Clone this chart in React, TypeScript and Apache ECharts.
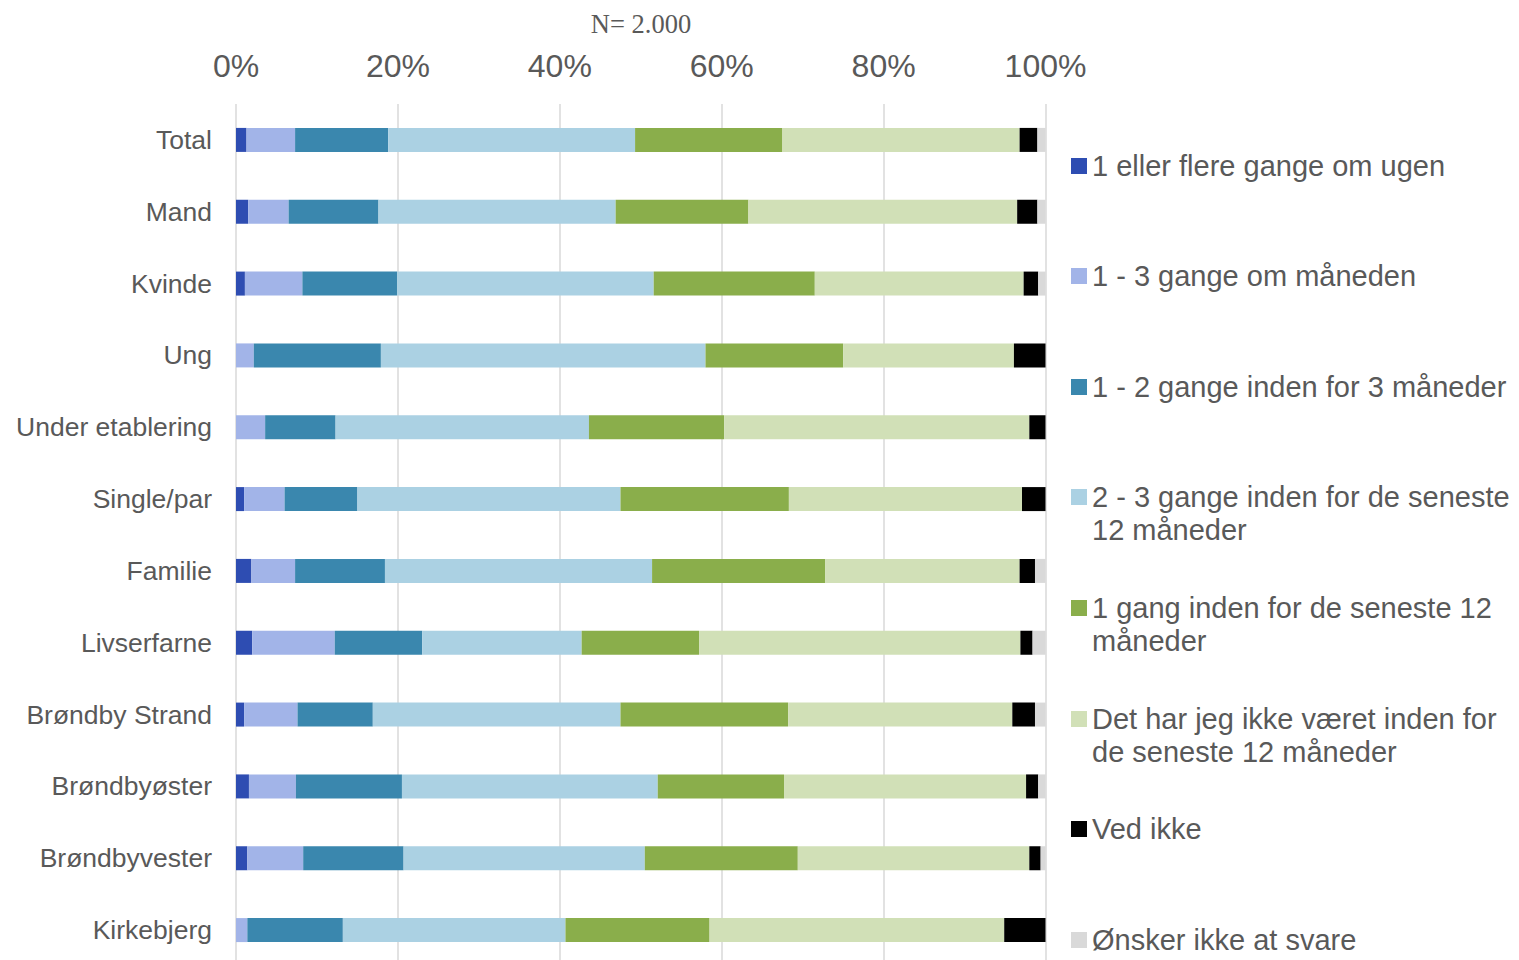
import React, { useEffect, useRef } from "react";
import * as echarts from "echarts";

const categories = [
  "Total",
  "Mand",
  "Kvinde",
  "Ung",
  "Under etablering",
  "Single/par",
  "Familie",
  "Livserfarne",
  "Brøndby Strand",
  "Brøndbyøster",
  "Brøndbyvester",
  "Kirkebjerg",
];

const seriesNames = [
  "1 eller flere gange om ugen",
  "1 - 3 gange om måneden",
  "1 - 2 gange inden for 3 måneder",
  "2 - 3 gange inden for de seneste 12 måneder",
  "1 gang inden for de seneste 12 måneder",
  "Det har jeg ikke været inden for de seneste 12 måneder",
  "Ved ikke",
  "Ønsker ikke at svare",
];

const legendLabels = [
  "1 eller flere gange om ugen",
  "1 - 3 gange om måneden",
  "1 - 2 gange inden for 3 måneder",
  "2 - 3 gange inden for de seneste\n12 måneder",
  "1 gang inden for de seneste 12\nmåneder",
  "Det har jeg ikke været inden for\nde seneste 12 måneder",
  "Ved ikke",
  "Ønsker ikke at svare",
];

const weekly = [1.3, 1.5, 1.1, 0, 0, 1.0, 1.9, 2.0, 1.0, 1.6, 1.4, 0];
const monthly = [6.0, 5.0, 7.1, 2.2, 3.6, 5.0, 5.4, 10.2, 6.6, 5.8, 6.9, 1.4];
const quarterly = [11.5, 11.1, 11.7, 15.7, 8.7, 9.0, 11.1, 10.8, 9.3, 13.1, 12.4, 11.8];
const twoThreeYear = [30.5, 29.3, 31.7, 40.1, 31.3, 32.5, 33.0, 19.7, 30.6, 31.6, 29.8, 27.5];
const onceYear = [18.2, 16.4, 19.9, 17.0, 16.7, 20.8, 21.4, 14.5, 20.7, 15.6, 18.9, 17.8];
const notInYear = [29.3, 33.2, 25.8, 21.1, 37.7, 28.8, 24.0, 39.7, 27.7, 29.9, 28.6, 36.4];
const dontKnow = [2.2, 2.5, 1.8, 3.9, 2.0, 2.9, 1.9, 1.5, 2.8, 1.5, 1.4, 5.1];
const noAnswer = [1.0, 1.0, 0.9, 0, 0, 0, 1.3, 1.6, 1.3, 0.9, 0.6, 0];

const seriesValues = [weekly, monthly, quarterly, twoThreeYear, onceYear, notInYear, dontKnow, noAnswer];

const colors = ["#2E4DB2", "#A2B4E8", "#3A87AE", "#ABD1E3", "#8AAE4B", "#D1E0B7", "#000000", "#D9D9D9"];

const xTicks = [0, 20, 40, 60, 80, 100];

const legendCenters = [166, 276, 387, 497, 608, 719, 829, 940];

export default function App() {
  const ref = useRef<HTMLDivElement>(null);

  useEffect(() => {
    if (!ref.current) return;
    const chart = echarts.init(ref.current, undefined, { renderer: "svg" });
    const textColor = "#595959";
    const font = "'Liberation Sans', Arial, sans-serif";
    const lineH = 33;

    const legends = seriesNames.map((name, i) => {
      const multi = legendLabels[i].includes("\n");
      const lines = multi ? 3 : 1;
      const h = lines * lineH;
      return {
        data: [name],
        orient: "vertical",
        left: 1071,
        top: legendCenters[i] - h / 2,
        padding: 0,
        itemWidth: 16,
        itemHeight: 16,
        icon: "rect",
        selectedMode: false,
        formatter: () => (multi ? "\n" + legendLabels[i] : legendLabels[i]),
        textStyle: {
          color: textColor,
          fontSize: 29,
          fontFamily: font,
          lineHeight: lineH,
        },
      };
    });

    chart.setOption({
      animation: false,
      backgroundColor: "#ffffff",
      title: {
        text: "N= 2.000",
        left: 641,
        textAlign: "center",
        top: 10,
        padding: 0,
        textStyle: {
          fontFamily: "'Liberation Serif', 'Times New Roman', serif",
          fontWeight: "normal",
          fontSize: 26.5,
          color: textColor,
        },
      },
      legend: legends,
      grid: {
        left: 236,
        top: 104,
        width: 809.5,
        height: 862,
        containLabel: false,
      },
      xAxis: {
        type: "value",
        position: "top",
        min: 0,
        max: 100,
        interval: 20,
        axisLine: { show: false },
        axisTick: { show: false },
        splitLine: { show: true, lineStyle: { color: "#D9D9D9", width: 1.5 } },
        axisLabel: {
          formatter: (v: number) => (xTicks.includes(v) ? v + "%" : ""),
          color: textColor,
          fontSize: 32,
          fontFamily: font,
          margin: 22,
        },
      },
      yAxis: {
        type: "category",
        data: categories,
        inverse: true,
        axisLine: { show: false },
        axisTick: { show: false },
        splitLine: { show: false },
        axisLabel: {
          color: textColor,
          fontSize: 26.5,
          fontFamily: font,
          margin: 24,
        },
      },
      series: seriesNames.map((name, i) => ({
        name,
        type: "bar",
        stack: "total",
        barWidth: 24,
        data: seriesValues[i],
        itemStyle: { color: colors[i] },
        emphasis: { disabled: true },
      })),
    });

    return () => chart.dispose();
  }, []);

  return (
    <div
      ref={ref}
      style={{ position: "fixed", left: 0, top: 0, width: 1519, height: 972 }}
    />
  );
}
